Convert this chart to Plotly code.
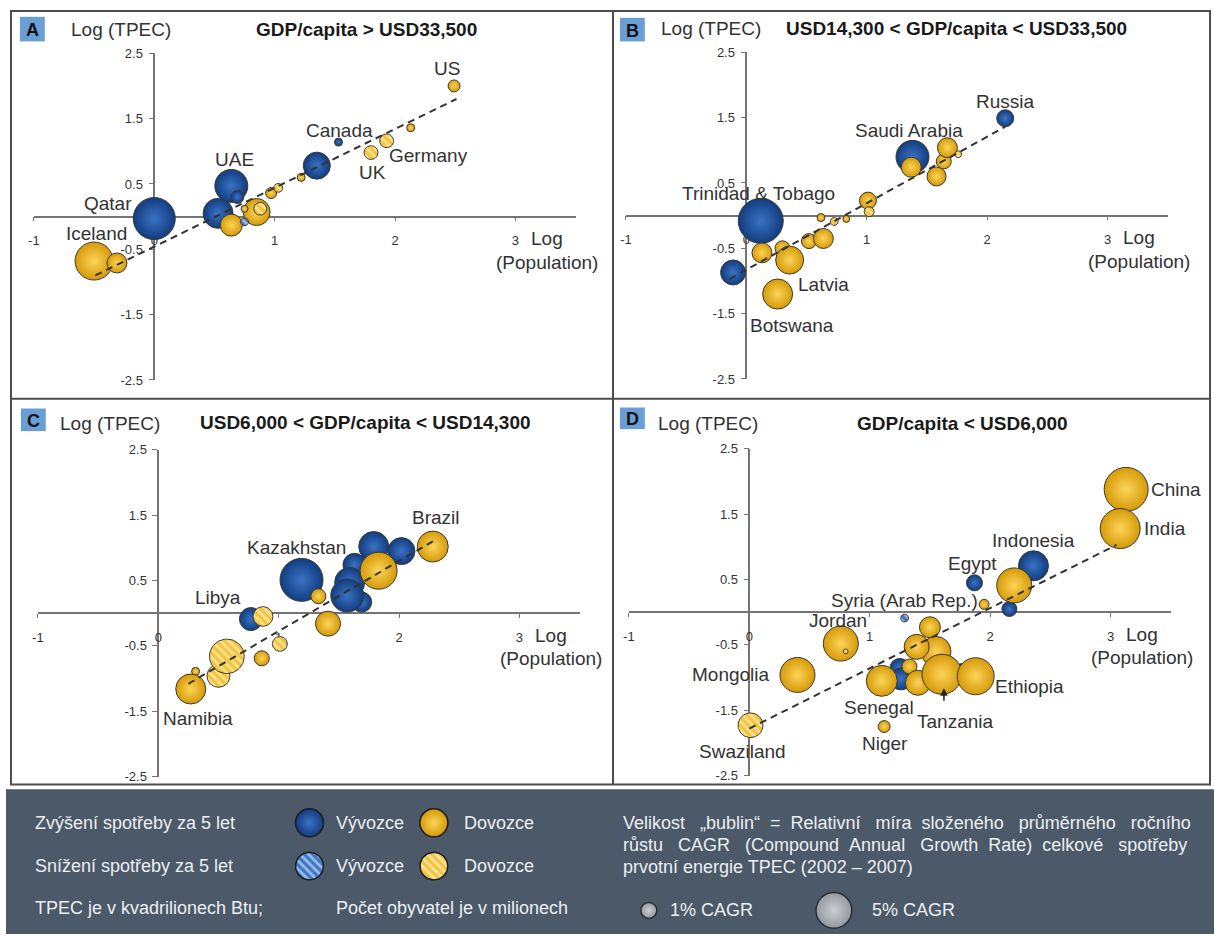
import numpy as np
import plotly.graph_objects as go

W, H = 1214, 942
FONT = "Liberation Sans, Arial, sans-serif"

# ------------------------------------------------------------------
# Data: log10(population, millions), log10(TPEC, quadrillion Btu),
# TPEC CAGR 2002-2007 in % (negative = consumption fell over 5 years),
# role: "exp" = energy exporter, "imp" = energy importer
# ------------------------------------------------------------------
# Panel A: GDP/capita > USD33,500
a_pop = [0.00, 0.53, 0.64, 0.69, 1.35, 1.53,
         -0.50, -0.31, 0.64, 0.85, 0.97, 0.75, 1.22, 2.49, 2.13,
         0.88, 0.75, 1.80, 1.93, 1.03]
a_tpec = [-0.03, 0.05, 0.47, 0.30, 0.78, 1.14,
          -0.68, -0.71, -0.13, 0.07, 0.36, 0.12, 0.60, 2.00, 1.36,
          0.12, -0.08, 0.98, 1.16, 0.44]
a_cagr = [6.9, 3.5, 4.25, 0.66, 2.85, 0.25,
          5.64, 1.56, 1.9, 2.85, 0.47, 0.19, 0.25, 0.56, 0.25,
          -0.66, -0.25, -0.77, -0.77, -0.32]
a_role = ["exp"] * 6 + ["imp"] * 9 + ["imp", "exp", "imp", "imp", "imp"]
a_trend_pop = [-0.49, 2.51]
a_trend_tpec = [-0.90, 1.80]
a_names = [("Qatar", 0), ("UAE", 2), ("Canada", 5), ("Iceland", 6),
           ("US", 13), ("UK", 17), ("Germany", 18)]

# Panel B: USD14,300 < GDP/capita < USD33,500
b_pop = [0.12, -0.11, 1.38, 2.15,
         0.13, 0.30, 0.36, 0.26, 0.52, 0.64, 0.62, 0.83, 1.01, 1.37, 1.58, 1.64, 1.67,
         0.73, 1.02, 1.76]
b_tpec = [-0.08, -0.87, 0.90, 1.49,
          -0.57, -0.50, -0.68, -1.20, -0.39, -0.35, -0.03, -0.05, 0.23, 0.74, 0.60, 0.83, 1.04,
          -0.09, 0.06, 0.94]
b_cagr = [7.91, 2.44, 4.25, 1.13,
          1.56, 0.88, 3.06, 3.52, 0.88, 1.56, 0.25, 0.19, 1.13, 1.56, 1.41, 0.88, 1.56,
          -0.25, -0.39, -0.19]
b_role = ["exp"] * 4 + ["imp"] * 16
b_trend_pop = [-0.14, 2.15]
b_trend_tpec = [-0.97, 1.36]
b_names = [("Trinidad & Tobago", 0), ("Saudi Arabia", 2), ("Russia", 3),
           ("Latvia", 6), ("Botswana", 7)]

# Panel C: USD6,000 < GDP/capita < USD14,300
c_pop = [1.19, 1.79, 2.02, 1.63, 1.59, 1.69, 1.57, 0.77,
         1.33, 1.41, 1.83, 2.28, 0.86, 0.31, 0.27,
         0.87, 1.01, 0.50, 0.57]
c_tpec = [0.51, 1.02, 0.95, 0.74, 0.47, 0.17, 0.27, -0.09,
          0.26, -0.16, 0.65, 1.02, -0.69, -0.89, -1.16,
          -0.05, -0.47, -0.96, -0.66]
c_cagr = [7.22, 3.52, 2.85, 2.07, 3.52, 1.56, 4.25, 2.07,
          0.88, 2.44, 5.35, 3.75, 0.88, 0.25, 3.52,
          -1.56, -0.88, -2.07, -4.79]
c_role = ["exp"] * 8 + ["imp"] * 11
c_trend_pop = [0.25, 2.29]
c_trend_tpec = [-1.08, 1.11]
c_names = [("Kazakhstan", 0), ("Libya", 7), ("Brazil", 11), ("Namibia", 14)]

# Panel D: GDP/capita < USD6,000
d_pop = [1.25, 1.26, 1.78, 1.87, 2.16, 2.36,
         3.13, 3.08, 2.20, 1.95, 0.76, 0.40, 1.12, 1.10, 1.33, 1.40, 1.50, 1.55, 1.39,
         1.60, 1.88,
         1.29, 0.01, 0.80]
d_tpec = [-0.86, -1.02, -0.95, 0.45, 0.05, 0.71,
          1.88, 1.28, 0.41, 0.12, -0.48, -0.96, -1.75, -1.05, -0.83, -1.08, -0.23, -0.60, -0.53,
          -0.95, -0.98,
          -0.09, -1.73, -0.60]
d_cagr = [1.56, 1.89, 1.89, 1.00, 0.88, 3.52,
          7.56, 6.25, 4.79, 0.39, 4.79, 4.79, 0.56, 3.75, 0.88, 2.44, 1.72, 3.52, 2.44,
          6.25, 5.35,
          -0.25, -2.44, -0.10]
d_role = ["exp"] * 6 + ["imp"] * 15 + ["exp", "imp", "imp"]
d_trend_pop = [0.00, 3.05]
d_trend_tpec = [-1.78, 1.03]
d_names = [("Egypt", 3), ("Indonesia", 5), ("China", 6), ("India", 7), ("Jordan", 10),
           ("Mongolia", 11), ("Niger", 12), ("Senegal", 13), ("Tanzania", 19),
           ("Ethiopia", 20), ("Syria (Arab Rep.)", 21), ("Swaziland", 22)]

panel_titles = {
    "A": "GDP/capita > USD33,500",
    "B": "USD14,300 < GDP/capita < USD33,500",
    "C": "USD6,000 < GDP/capita < USD14,300",
    "D": "GDP/capita < USD6,000",
}
x_ticks = [-1, 0, 1, 2, 3]
y_ticks = [-2.5, -1.5, -0.5, 0.5, 1.5, 2.5]
key_cagr = [1, 5]

# ------------------------------------------------------------------
# Layout constants
# ------------------------------------------------------------------
PX_X, PX_Y = 121.0, 66.4          # pixels per log unit
X_RANGE = (-1.0, 3.5)
Y_RANGE = (-2.5, 2.5)
SIZEREF = 2.0 / 256.0              # 1 % CAGR -> 16 px bubble (area scaling)
ORIGIN = {"A": (149, 213), "B": (744, 212), "C": (153, 616), "D": (747, 615)}

BLUE_EDGE, BLUE_CORE = "#123c80", "#3a73c4"
GOLD_EDGE, GOLD_CORE = "#d69a08", "#fcd45a"
BLUE_STRIPE, GOLD_STRIPE = "#3c78c8", "#f3c53c"
OUTLINE = "#3b3a30"
AXIS_COL = "#747474"
TEXT_COL = "#333333"
LEG_BG = "#4b5968"
LEG_TXT = "#eceff2"
NB = "\u00a0"


def paper_x(px):
    return px / W


def paper_y(py):
    return 1 - py / H


def bubble_diam(c):
    return np.sqrt(2 * abs(c) / SIZEREF)


def circle_outline(cx, cy, diam, sx, sy, n=60):
    t = np.linspace(0, 2 * np.pi, n)
    r = diam / 2.0
    return cx + r * np.cos(t) / sx, cy + r * np.sin(t) / sy


def spread(words, gaps):
    """Join words with widened gaps (gaps = number of spaces per gap)."""
    out = words[0]
    for w, g in zip(words[1:], gaps):
        out += NB * g + w
    return out


label_shift = {
    "US": (-7, 17), "Canada": (1, 12), "Germany": (42, -15), "UK": (2, -20),
    "UAE": (3, 26), "Qatar": (-46, 15), "Iceland": (2, 28),
    "Russia": (0, 17), "Saudi Arabia": (-3, 26), "Trinidad & Tobago": (-2, 27),
    "Latvia": (34, -24), "Botswana": (14, -31),
    "Brazil": (3, 29), "Kazakhstan": (-5, 32), "Libya": (-33, 22), "Namibia": (7, -30),
    "China": (50, 0), "India": (45, 0), "Indonesia": (0, 25), "Egypt": (-2, 19),
    "Syria (Arab Rep.)": (0, 18), "Jordan": (-3, 23), "Mongolia": (-66, 0),
    "Senegal": (-3, -27), "Niger": (1, -17), "Swaziland": (-8, -26),
    "Tanzania": (13, -47), "Ethiopia": (54, -10),
}

panels = {
    "A": (a_pop, a_tpec, a_cagr, a_role, a_trend_pop, a_trend_tpec, a_names),
    "B": (b_pop, b_tpec, b_cagr, b_role, b_trend_pop, b_trend_tpec, b_names),
    "C": (c_pop, c_tpec, c_cagr, c_role, c_trend_pop, c_trend_tpec, c_names),
    "D": (d_pop, d_tpec, d_cagr, d_role, d_trend_pop, d_trend_tpec, d_names),
}

fig = go.Figure()
annotations = []
shapes = []
layout_axes = {}


def add_text(text, x, y, size=19, color=TEXT_COL, bold=False, xanchor="center"):
    annotations.append(dict(
        text=f"<b>{text}</b>" if bold else text,
        x=paper_x(x), y=paper_y(y), xref="paper", yref="paper",
        xanchor=xanchor, yanchor="middle", showarrow=False,
        font=dict(family=FONT, size=size, color=color)))


for i, key in enumerate("ABCD"):
    n = i + 1
    sfx = "" if n == 1 else str(n)
    xa, ya = "x" + sfx, "y" + sfx
    ox, oy = ORIGIN[key]
    pop, tpec, cagr, role, tr_x, tr_y, names = panels[key]

    layout_axes["xaxis" + sfx] = dict(
        domain=[paper_x(ox + X_RANGE[0] * PX_X), paper_x(ox + X_RANGE[1] * PX_X)],
        range=list(X_RANGE), anchor="free", position=paper_y(oy),
        tickvals=x_ticks, ticktext=[str(v) for v in x_ticks],
        ticks="outside", ticklen=4, tickcolor=AXIS_COL, ticklabelstandoff=8,
        showline=True, linecolor=AXIS_COL, linewidth=1.5,
        showgrid=False, zeroline=False, layer="below traces",
        tickfont=dict(family=FONT, size=13, color=TEXT_COL))
    layout_axes["yaxis" + sfx] = dict(
        domain=[paper_y(oy - Y_RANGE[0] * PX_Y), paper_y(oy - Y_RANGE[1] * PX_Y)],
        range=list(Y_RANGE), anchor="free", position=paper_x(ox),
        tickvals=y_ticks, ticktext=[str(v) for v in y_ticks],
        ticks="outside", ticklen=5, tickcolor=AXIS_COL, ticklabelstandoff=3,
        showline=True, linecolor=AXIS_COL, linewidth=1.5,
        showgrid=False, zeroline=False, layer="below traces",
        tickfont=dict(family=FONT, size=13, color=TEXT_COL))

    pop = np.array(pop)
    tpec = np.array(tpec)
    cagr = np.array(cagr)
    role = np.array(role)

    # growing consumption: solid shaded bubbles (exporters first, importers on top)
    for r, edge, core in (("exp", BLUE_EDGE, BLUE_CORE), ("imp", GOLD_EDGE, GOLD_CORE)):
        m = (role == r) & (cagr > 0)
        fig.add_trace(go.Scatter(
            x=pop[m], y=tpec[m], xaxis=xa, yaxis=ya, mode="markers",
            marker=dict(size=cagr[m], sizemode="area", sizeref=SIZEREF,
                        color=edge, gradient=dict(type="radial", color=core),
                        line=dict(color=OUTLINE, width=1), opacity=1),
            cliponaxis=False, hoverinfo="skip", showlegend=False))

    # falling consumption: striped bubbles
    for j in np.where(cagr < 0)[0]:
        bx, by = circle_outline(pop[j], tpec[j], bubble_diam(cagr[j]), PX_X, PX_Y)
        base = BLUE_STRIPE if role[j] == "exp" else GOLD_STRIPE
        fig.add_trace(go.Scatter(
            x=bx, y=by, xaxis=xa, yaxis=ya, mode="lines", fill="toself",
            fillcolor=base,
            fillpattern=dict(shape="\\", bgcolor=base, fgcolor="#fffbea",
                             size=6, solidity=0.45),
            line=dict(color=OUTLINE, width=1),
            hoverinfo="skip", showlegend=False))

    # trend line
    fig.add_trace(go.Scatter(
        x=tr_x, y=tr_y, xaxis=xa, yaxis=ya, mode="lines",
        line=dict(color="#333333", width=2, dash="7px,5px"),
        hoverinfo="skip", showlegend=False))

    # country labels
    for name, idx in names:
        dx, dy = label_shift[name]
        annotations.append(dict(
            text=name, x=pop[idx], y=tpec[idx], xref=xa, yref=ya,
            xshift=dx, yshift=dy, showarrow=False,
            font=dict(family=FONT, size=19, color=TEXT_COL)))
        if name == "Tanzania":
            annotations.append(dict(
                text="", x=pop[idx], y=tpec[idx], xref=xa, yref=ya, xshift=2,
                showarrow=True, ax=0, ay=28, standoff=14, arrowhead=2,
                arrowsize=1, arrowwidth=1.5, arrowcolor="#222222"))

    # axis captions
    for txt, yy in (("Log", -0.34), ("(Population)", -0.70)):
        annotations.append(dict(
            text=txt, x=3.26, y=yy, xref=xa, yref=ya, showarrow=False,
            font=dict(family=FONT, size=19, color=TEXT_COL)))

# panel headers
headers = {
    "A": ((14, 39, 10, 35), (116, 23), (362, 23)),
    "B": ((617, 642, 11, 35), (708, 22), (955, 22)),
    "C": ((15, 40, 408, 431), (105, 423), (361, 422)),
    "D": ((617, 642, 407, 429), (705, 423), (961, 423)),
}
for key, (box, ylab, ttl) in headers.items():
    x0, x1, y0, y1 = box
    shapes.append(dict(type="rect", xref="paper", yref="paper",
                       x0=paper_x(x0), x1=paper_x(x1), y0=paper_y(y1), y1=paper_y(y0),
                       fillcolor="#6a9fd6", line=dict(width=0)))
    add_text(key, (x0 + x1) / 2, (y0 + y1) / 2 + 1, size=18, color="#111111", bold=True)
    add_text("Log (TPEC)", ylab[0], ylab[1], size=19)
    add_text(panel_titles[key], ttl[0], ttl[1], size=19, color="#1a1a1a", bold=True)

# panel frame
frame = dict(color="#4d4d4d", width=2)
shapes.append(dict(type="rect", xref="paper", yref="paper",
                   x0=paper_x(5), x1=paper_x(1210), y0=paper_y(790), y1=paper_y(4),
                   line=frame))
shapes.append(dict(type="line", xref="paper", yref="paper",
                   x0=paper_x(610), x1=paper_x(610), y0=paper_y(790), y1=paper_y(4),
                   line=frame))
shapes.append(dict(type="line", xref="paper", yref="paper",
                   x0=paper_x(5), x1=paper_x(1210), y0=paper_y(398), y1=paper_y(398),
                   line=frame))

# ------------------------------------------------------------------
# Key strip at the bottom
# ------------------------------------------------------------------
KEY_TOP = 795
shapes.append(dict(type="rect", xref="paper", yref="paper", layer="below",
                   x0=0, x1=1, y0=0, y1=paper_y(KEY_TOP),
                   fillcolor=LEG_BG, line=dict(width=0)))
layout_axes["xaxis5"] = dict(domain=[0, 1], range=[0, W], visible=False, anchor="y5")
layout_axes["yaxis5"] = dict(domain=[0, paper_y(KEY_TOP)], range=[H, KEY_TOP],
                             visible=False, anchor="x5")

key_cols = [305, 430]
key_rows = [829, 873]
key_icon = 28
for xc, edge, core in ((key_cols[0], BLUE_EDGE, BLUE_CORE), (key_cols[1], GOLD_EDGE, GOLD_CORE)):
    fig.add_trace(go.Scatter(
        x=[xc], y=[key_rows[0]], xaxis="x5", yaxis="y5", mode="markers",
        marker=dict(size=key_icon, color=edge, gradient=dict(type="radial", color=core),
                    line=dict(color="#1d1d1d", width=1.5)),
        cliponaxis=False, hoverinfo="skip", showlegend=False))
for xc, base in ((key_cols[0], BLUE_STRIPE), (key_cols[1], GOLD_STRIPE)):
    kx, ky = circle_outline(xc, key_rows[1], key_icon, 1.0, 1.0)
    fig.add_trace(go.Scatter(
        x=kx, y=ky, xaxis="x5", yaxis="y5", mode="lines", fill="toself",
        fillcolor=base,
        fillpattern=dict(shape="\\", bgcolor=base, fgcolor="#ffffff", size=6, solidity=0.45),
        line=dict(color="#1d1d1d", width=1.5), hoverinfo="skip", showlegend=False))

fig.add_trace(go.Scatter(
    x=[646, 832], y=[918, 918], xaxis="x5", yaxis="y5", mode="markers",
    marker=dict(size=key_cagr, sizemode="area", sizeref=SIZEREF,
                color="#b5b5b5", gradient=dict(type="radial", color="#ffffff"),
                line=dict(color="#1d1d1d", width=1.5)),
    cliponaxis=False, hoverinfo="skip", showlegend=False))

LX = 27
add_text("Zvýšení spotřeby za 5 let", LX, 829, size=18, color=LEG_TXT, xanchor="left")
add_text("Snížení spotřeby za 5 let", LX, 873, size=18, color=LEG_TXT, xanchor="left")
add_text("TPEC je v kvadrilionech Btu;", LX, 916, size=18, color=LEG_TXT, xanchor="left")
for yy in key_rows:
    add_text("Vývozce", 330, yy, size=18, color=LEG_TXT, xanchor="left")
    add_text("Dovozce", 458, yy, size=18, color=LEG_TXT, xanchor="left")
add_text("Počet obyvatel je v milionech", 330, 916, size=18, color=LEG_TXT, xanchor="left")

RX = 618
add_text(spread(["Velikost", "„bublin“", "=", "Relativní", "míra", "složeného",
                 "průměrného", "ročního"], [3, 2, 2, 3, 2, 3, 3]),
         RX, 829, size=18, color=LEG_TXT, xanchor="left")
add_text(spread(["růstu", "CAGR", "(Compound", "Annual", "Growth", "Rate)", "celkové",
                 "spotřeby"], [3, 3, 2, 3, 2, 2, 3]),
         RX, 852, size=18, color=LEG_TXT, xanchor="left")
add_text("prvotní energie TPEC (2002 – 2007)",
         RX, 874, size=18, color=LEG_TXT, xanchor="left")
add_text("1% CAGR", 665, 918, size=18, color=LEG_TXT, xanchor="left")
add_text("5% CAGR", 868, 918, size=18, color=LEG_TXT, xanchor="left")

fig.update_layout(
    width=W, height=H, margin=dict(l=0, r=0, t=0, b=0),
    paper_bgcolor="white", plot_bgcolor="rgba(0,0,0,0)",
    showlegend=False, annotations=annotations, shapes=shapes,
    font=dict(family=FONT), **layout_axes)

fig.write_html("out.html")
